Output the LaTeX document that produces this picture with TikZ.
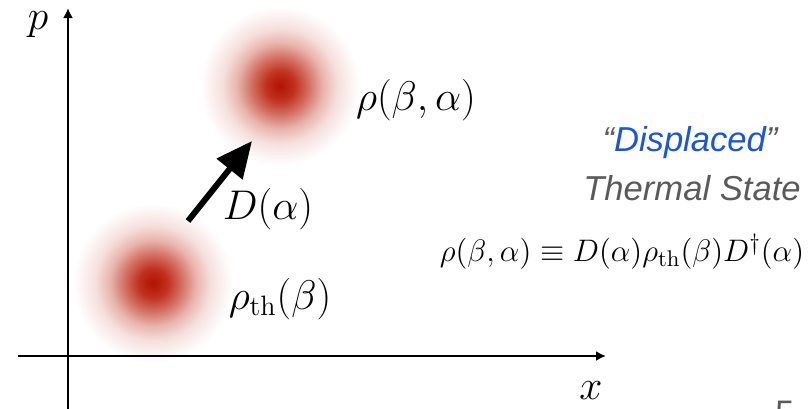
\documentclass[tikz,border=0pt]{standalone}
\usepackage{amsmath, amssymb}
\usepackage{fontspec}
\setsansfont{Liberation Sans}
\usepackage{xcolor}
\usepackage{tikz}
\usetikzlibrary{shapes,arrows.meta}

\definecolor{dispblue}{HTML}{1A56D6}
\definecolor{stategray}{HTML}{5A5A5A}
\pgfdeclareradialshading{blob}{\pgfpoint{0bp}{0bp}}{%
  rgb(0bp)=(0.70,0.07,0);
  rgb(4.5bp)=(0.754,0.19,0.12);
  rgb(9bp)=(0.83,0.44,0.39);
  rgb(13.5bp)=(0.91,0.71,0.68);
  rgb(18bp)=(0.962,0.876,0.865);
  rgb(22.5bp)=(0.988,0.96,0.956);
  rgb(25bp)=(1,1,1);
  rgb(50bp)=(1,1,1)}

\tikzset{
  blob/.style={circle,shade,shading=blob,minimum size=80pt,inner sep=0pt},
  axis/.style={line width=1pt,-{Latex[length=5pt,width=5pt]}},
  disparrow/.style={line width=3pt,-{Triangle[length=18pt,width=16pt]}},
  biglabel/.style={font=\fontsize{20}{24}\selectfont,inner sep=0pt},
  caption/.style={font=\fontsize{17.3}{20}\selectfont\sffamily\itshape,text=stategray,inner sep=0pt}
}

\begin{document}
\begin{tikzpicture}[x=0.5pt,y=-0.5pt]
    \useasboundingbox (0,0) rectangle (809,408);

    % the two states
    \node[blob] (thermal) at (153,283) {};
    \node[blob] (displaced) at (280,86) {};

    % phase space axes
    \coordinate (ybot) at (68,410);
    \coordinate (ytop) at (68,8);
    \coordinate (xleft) at (18,356);
    \coordinate (xright) at (606,356);
    \draw[axis] (ybot) -- (ytop);
    \draw[axis] (xleft) -- (xright);
    \node[biglabel] (plabel) at (38,25) {$p$};
    \node[biglabel] (xlabel) at (591,391) {$x$};

    % displacement
    \coordinate (dstart) at (188,221);
    \coordinate (dend) at (252,141);
    \draw[disparrow] (dstart) -- (dend);
    \node[biglabel] (dlabel) at (268,209) {$D(\alpha)$};

    \node[biglabel] (rholabel) at (416,100) {$\rho(\beta,\alpha)$};
    \node[biglabel] (thlabel) at (280,299) {$\rho_{\mathrm{th}}(\beta)$};

    % right hand text
    \node[caption] (disp) at (690,143) {``\textcolor{dispblue}{Displaced}''};
    \node[caption] (therm) at (692,188) {Thermal State};
    \node[font=\fontsize{15}{18}\selectfont,inner sep=0pt,scale=1.08] (defn) at (622,252)
        {$\rho(\beta,\alpha)\equiv D(\alpha)\rho_{\mathrm{th}}(\beta)D^{\dagger}(\alpha)$};

    \node[font=\fontsize{17}{20}\selectfont\sffamily,text=stategray,anchor=north west,inner sep=0pt] (pagenum) at (775,401) {5};
\end{tikzpicture}
\end{document}
